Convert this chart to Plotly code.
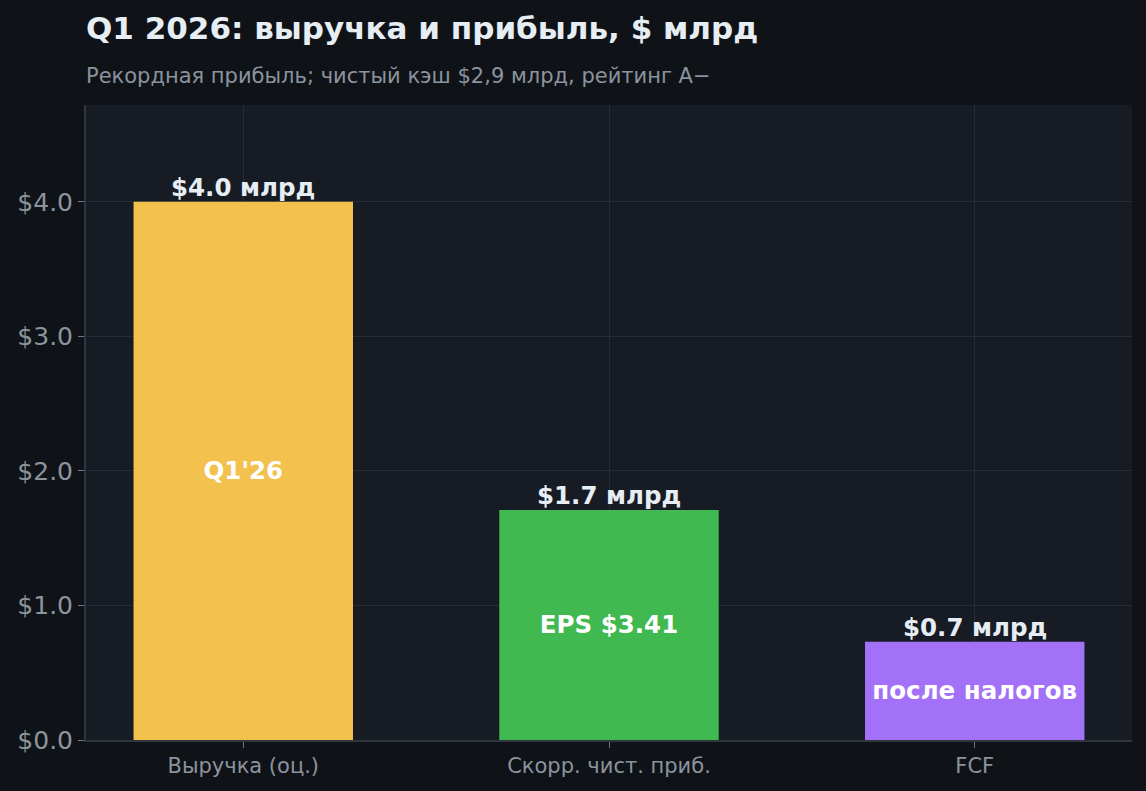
import plotly.graph_objects as go

categories = ["Выручка (оц.)", "Скорр. чист. приб.", "FCF"]
values = [4.0, 1.71, 0.73]
top_labels = ["$4.0 млрд", "$1.7 млрд", "$0.7 млрд"]
inner_labels = ["Q1'26", "EPS $3.41", "после налогов"]
colors = ["#f2c14e", "#3fb950", "#a371f7"]
y_ticks = [0, 1, 2, 3, 4]
y_tick_text = ["$0.0", "$1.0", "$2.0", "$3.0", "$4.0"]

FONT = "DejaVu Sans"

fig = go.Figure()
fig.add_trace(go.Bar(
    x=categories, y=values, width=0.6,
    marker=dict(color=colors, line=dict(width=0)),
    text=inner_labels, textposition="inside", insidetextanchor="middle",
    textangle=0,
    textfont=dict(family=FONT, size=24.5, color="#ffffff", weight="bold"),
    hoverinfo="skip", cliponaxis=False,
))

for c, v, t in zip(categories, values, top_labels):
    fig.add_annotation(x=c, y=v, text=t, showarrow=False, yanchor="bottom",
                       yshift=-2,
                       font=dict(family=FONT, size=24.5, color="#e6edf3", weight="bold"))

fig.add_annotation(xref="paper", yref="paper", x=0, y=1, xanchor="left", yanchor="bottom",
                   yshift=15, xshift=-2,
                   text="Рекордная прибыль; чистый кэш $2,9 млрд, рейтинг A−",
                   showarrow=False, font=dict(family=FONT, size=21, color="#8b949e"))

fig.update_layout(
    width=1146, height=791,
    paper_bgcolor="#0f1318", plot_bgcolor="#171b24",
    margin=dict(l=86, r=14, t=105, b=51),
    title=dict(text="<b>Q1 2026: выручка и прибыль, $ млрд</b>", x=86/1146, xanchor="left",
               y=1 - 28/791, yanchor="middle",
               font=dict(family=FONT, size=31, color="#e6edf3")),
    showlegend=False,
    bargap=0.4,
)
fig.update_xaxes(range=[-0.43, 2.43], showgrid=True, gridcolor="#262b35",
                 showline=True, linecolor="#30363d", linewidth=2,
                 ticks="outside", tickcolor="#6e7681", ticklen=6,
                 tickfont=dict(family=FONT, size=21, color="#8b949e"))
fig.update_yaxes(range=[0, 4.72], tickvals=y_ticks, ticktext=y_tick_text,
                 showgrid=True, gridcolor="#262b35", zeroline=False,
                 showline=True, linecolor="#30363d", linewidth=2,
                 ticks="outside", tickcolor="#6e7681", ticklen=6,
                 tickfont=dict(family=FONT, size=25, color="#8b949e"))

fig.write_html("out.html", config={"displayModeBar": False},
               post_script="document.body.style.margin='0';document.body.style.background='#0f1318';")
